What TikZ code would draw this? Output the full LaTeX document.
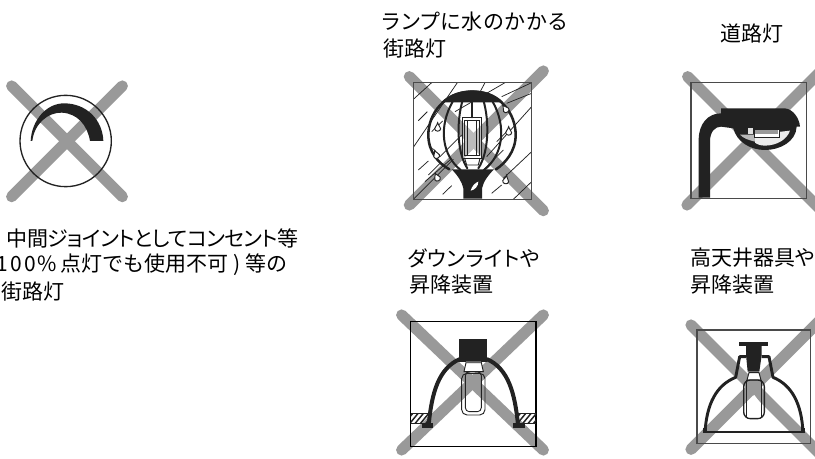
\documentclass[tikz,border=0pt]{standalone}
\usepackage{fontspec}
\setmainfont[RawFeature=+palt]{Noto Sans CJK JP}
\newfontfamily\fullwidthfont{Noto Sans CJK JP}
\usetikzlibrary{calc}
\tikzset{
  label/.style={anchor=west,inner sep=0pt,outer sep=0pt,font=\fontsize{15.75}{15.75}\selectfont,text=black},
  crossbar/.style={draw=crossgray,line width=8.4pt,line cap=round},
  frame/.style={draw=framegray,line width=.8pt},
  ink/.style={draw=inkdark,fill=inkdark},
  thick ink/.style={draw=inkdark,line width=1.9pt,line cap=round,line join=round},
  thin ink/.style={draw=inkdark,line width=.7pt},
  rain/.style={draw=inkdark,line width=.55pt},
  zoomed/.style={x=.25pt,y=-.25pt}
}
\definecolor{crossgray}{HTML}{999999}
\definecolor{framegray}{HTML}{4A4A4A}
\definecolor{inkdark}{HTML}{222222}
\begin{document}
\begin{tikzpicture}[x=.75pt,y=-.75pt]
\useasboundingbox (0,0) rectangle (815,459);
\fill[white] (0,0) rectangle (815,459);

% ---- texts
\node[label] (t1) at (7,238) {\addfontfeature{LetterSpace=-3}中間ジョイントとしてコンセント等};
\node[label] (t2) at (-3,265) {\fullwidthfont 1\hspace{1.4pt}0\hspace{1.4pt}0\hspace{1.4pt}\%\hspace{3pt}点灯でも使用不可\hspace{3.5pt})\hspace{3.5pt}等の};
\node[label] (t3) at (2,292) {街路灯};
\node[label] (t4) at (382,22) {\addfontfeature{LetterSpace=5}ランプに水のかかる};
\node[label] (t5) at (383,49) {街路灯};
\node[label] (t6) at (720,34) {道路灯};
\node[label] (t7) at (408,258) {\addfontfeature{LetterSpace=2}ダウンライトや};
\node[label] (t8) at (409,285) {昇降装置};
\node[label] (t9) at (690,258) {高天井器具や};
\node[label] (t10) at (690,285) {昇降装置};

% ---- left: circle lamp
\begin{scope}[shift={(0,70)},zoomed]
  \draw[crossbar] (35,48) -- (367,380);
  \draw[crossbar] (35,380) -- (367,48);
  \draw[thin ink,line width=1pt] (197,213) circle [radius=137];
  \fill[inkdark] (92,213) .. controls (95,150) and (140,100) .. (192,100)
     .. controls (260,100) and (308,150) .. (310,213) -- (270,213)
     .. controls (262,165) and (232,130) .. (185,128)
     .. controls (145,127) and (103,160) .. (97,213) -- cycle;
\end{scope}

% ---- rain street lamp
\begin{scope}[shift={(370,60)},zoomed]
  \draw[crossbar] (118,50) -- (520,452);
  \draw[crossbar] (118,435) -- (520,33);
  \begin{scope}
    \clip (130,67) rectangle (485,418);
    \foreach \a/\b/\c/\d in {
      130/118/185/68, 145/182/172/155, 130/262/262/68, 185/215/218/183,
      145/330/175/303, 130/418/250/298, 218/403/245/377, 255/155/405/68,
      175/345/210/310, 320/115/345/68, 350/290/485/140, 365/400/395/375,
      380/245/420/205, 395/110/485/68, 430/418/485/365, 400/355/485/275,
      410/130/485/100, 210/290/275/225, 340/330/400/270, 165/365/240/300}
      \draw[rain] (\a,\b) -- (\c,\d);
  \end{scope}
  \draw[frame] (130,67) rectangle (485,418);
  % globe
  \draw[thick ink] (238,328) .. controls (205,310) and (175,275) .. (175,225)
     .. controls (175,160) and (225,95) .. (307,95)
     .. controls (390,95) and (437,160) .. (437,225)
     .. controls (437,275) and (405,310) .. (378,328);
  \draw[thick ink,line width=1.5pt] (248,125) .. controls (205,200) and (215,285) .. (272,330);
  \draw[thick ink,line width=1.5pt] (368,125) .. controls (410,200) and (400,285) .. (342,330);
  \draw[thick ink,line width=1.5pt] (278,120) .. controls (258,190) and (262,280) .. (292,325);
  \draw[thick ink,line width=1.5pt] (340,120) .. controls (360,190) and (355,280) .. (325,325);
  \draw[thick ink,line width=1.4pt] (307,122) -- (307,172);
  \fill[inkdark] (213,127) .. controls (240,100) and (275,91) .. (307,91)
     .. controls (340,91) and (375,100) .. (400,127) -- cycle;
  % base
  \fill[inkdark] (245,328) -- (372,328) .. controls (355,345) and (340,365) .. (336,385)
     -- (336,416) -- (280,416) -- (280,385) .. controls (276,365) and (262,345) .. cycle;
  \fill[white] (302,392) .. controls (305,380) and (315,368) .. (325,365)
     .. controls (325,378) and (315,390) .. cycle;
  % lamp
  \draw[thin ink,fill=white,fill opacity=.35] (276,172) -- (335,172) -- (335,295) -- (276,295) -- cycle;
  \draw[thin ink] (284,180) -- (327,180) -- (327,287) -- (284,287) -- cycle;
  \draw[thin ink] (292,180) -- (292,287) (318,180) -- (318,287);
  \draw[thin ink] (284,295) -- (290,315) -- (325,315) -- (330,295);
  % drops
  \foreach \x/\y/\r in {203/200/0, 416/212/0, 405/145/35, 198/282/20, 200/350/25, 408/358/-10}
    \draw[thin ink,fill=white,rotate around={\r:(\x,\y)}] (\x,\y-12) .. controls (\x+3,\y-2) and (\x+9,\y+2) .. (\x+9,\y+6)
      .. controls (\x+9,\y+16) and (\x-9,\y+16) .. (\x-9,\y+6)
      .. controls (\x-9,\y+2) and (\x-3,\y-2) .. cycle;
\end{scope}

% ---- road lamp
\begin{scope}[shift={(640,60)},zoomed]
  \draw[crossbar] (143,50) -- (540,447);
  \draw[crossbar] (141,435) -- (540,36);
  \draw[frame] (153,68) rectangle (500,415);
  \fill[inkdark] (176,413) -- (176,240) .. controls (176,190) and (205,160) .. (243,160)
     -- (243,145) -- (435,145) .. controls (460,148) and (478,175) .. (480,200)
     -- (470,200) .. controls (468,245) and (420,270) .. (375,270)
     .. controls (330,270) and (290,245) .. (280,205) -- (243,200)
     .. controls (225,200) and (210,215) .. (210,245) -- (210,413) -- cycle;
  \fill[crossgray!70] (300,224) -- (345,224) -- (345,245) .. controls (325,240) and (310,235) .. cycle;
  \fill[white!80!crossgray] (345,224) -- (450,212) .. controls (440,240) and (410,256) .. (375,257) .. controls (360,257) and (350,252) .. (345,248) -- cycle;
  \fill[white!70!crossgray] (325,205) -- (340,205) -- (340,222) -- (325,222) -- cycle;
  \draw[thin ink,fill=white] (343,207) rectangle (418,231);
  \fill[crossgray] (346,209) rectangle (415,222);
\end{scope}

% ---- downlight
\begin{scope}[shift={(380,300)},zoomed]
  \draw[crossbar] (65,45) -- (490,450);
  \draw[crossbar] (65,450) -- (490,45);
  \draw[frame,draw=black] (92,65) rectangle (468,440);
  % ceiling
  \foreach \side in {0,1} {
    \ifnum\side=0
      \def\xa{92}\def\xb{145}
    \else
      \def\xa{415}\def\xb{468}
    \fi
    \begin{scope}
      \clip (\xa,340) rectangle (\xb,370);
      \foreach \k in {0,16,...,80}
        \draw[thin ink,line width=1.1pt] (\xa+\k-20,372) -- (\xa+\k+8,338);
    \end{scope}
    \draw[thin ink] (\xa,340) -- (\xb,340) (\xa,370) -- (\xb,370);
  }
  \draw[thick ink,line width=3pt,line cap=butt] (146,375) .. controls (155,280) and (175,205) .. (240,177);
  \draw[thick ink,line width=3pt,line cap=butt] (414,375) .. controls (405,280) and (385,205) .. (320,177);
  \fill[inkdark] (125,370) rectangle (160,384);
  \fill[inkdark] (400,370) rectangle (435,384);
  \fill[inkdark] (238,117) rectangle (322,185);
  \draw[thin ink,fill=white] (258,188) -- (304,188) -- (310,215) -- (252,215) -- cycle;
  \fill[inkdark!70] (258,183) rectangle (304,190);
  \draw[thin ink,rounded corners=4pt] (245,220) rectangle (315,345);
  \draw[thin ink,rounded corners=3pt] (256,215) rectangle (304,335);
  \fill[white] (265,333) -- (265,300) -- (280,278) -- (295,300) -- (295,333) -- cycle;
\end{scope}

% ---- high-ceiling lamp
\begin{scope}[shift={(645,300)},zoomed]
  \draw[crossbar] (138,75) -- (530,467);
  \draw[crossbar] (138,448) -- (530,56);
  \draw[frame] (156,90) rectangle (497,430);
  \fill[inkdark] (282,125) rectangle (370,137);
  \fill[inkdark] (303,137) -- (350,137) -- (350,165) -- (343,215) -- (308,215) -- (303,165) -- cycle;
  \draw[thick ink,line width=2.2pt,line cap=butt] (303,170) -- (284,170) -- (272,232)
     .. controls (215,255) and (185,310) .. (180,398);
  \draw[thick ink,line width=2.2pt,line cap=butt] (350,170) -- (372,170) -- (384,232)
     .. controls (440,255) and (470,310) .. (474,398);
  \draw[thin ink,line width=1.3pt] (178,396) -- (476,396);
  \fill[inkdark] (174,385) rectangle (186,400);
  \fill[inkdark] (468,385) rectangle (480,400);
  \draw[thin ink,fill=white] (312,218) -- (342,218) -- (348,240) -- (306,240) -- cycle;
  \draw[thin ink,line width=1pt,rounded corners=5pt] (296,240) rectangle (358,356);
  \draw[thin ink] (304,240) -- (304,350) (350,240) -- (350,350);
  \fill[white] (312,346) -- (312,305) -- (328,285) -- (343,305) -- (343,346) -- cycle;
\end{scope}
\end{tikzpicture}
\end{document}
